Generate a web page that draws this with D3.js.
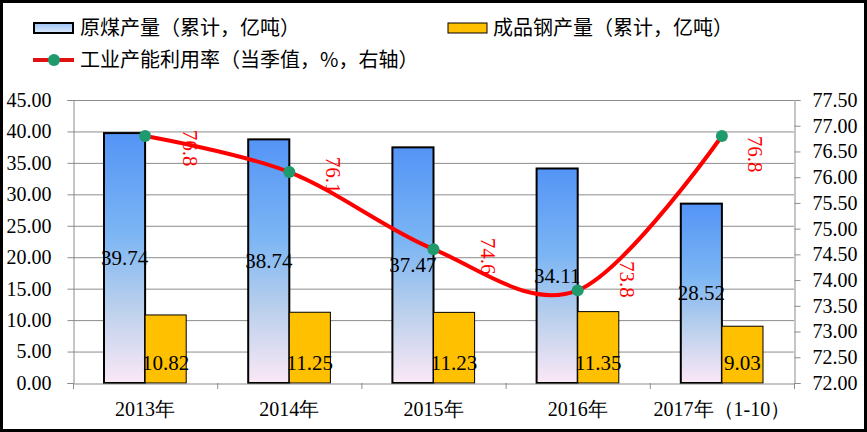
<!DOCTYPE html>
<html><head><meta charset="utf-8">
<script src="https://cdn.jsdelivr.net/npm/d3@7"></script>
<style>
body{margin:0;background:#fff;}
svg{display:block;}
.serif{font-family:"Liberation Serif","Times New Roman","DejaVu Serif",serif;}
.cjk{font-family:"Noto Sans CJK SC","Noto Sans",sans-serif;}
</style></head>
<body>
<div id="chart"></div>
<script>
const categories = ["2013年","2014年","2015年","2016年","2017年（1-10）"];
const coalOutput = [39.74, 38.74, 37.47, 34.11, 28.52];
const steelOutput = [10.82, 11.25, 11.23, 11.35, 9.03];
const utilization = [76.8, 76.1, 74.6, 73.8, 76.8];
const leftTicks = [0,5,10,15,20,25,30,35,40,45];
const rightTicks = [72,72.5,73,73.5,74,74.5,75,75.5,76,76.5,77,77.5];
const seriesNames = ["原煤产量（累计，亿吨）","成品钢产量（累计，亿吨）","工业产能利用率（当季值，%，右轴）"];

const W = 867, H = 432;
const plot = {left:73, right:794, top:100, bottom:383};

const svg = d3.select("#chart").append("svg").attr("width",W).attr("height",H);
const defs = svg.append("defs");
const grad = defs.append("linearGradient").attr("id","blueGrad")
  .attr("x1",0).attr("y1",0).attr("x2",0).attr("y2",1);
grad.append("stop").attr("offset","0%").attr("stop-color","#5494F6");
grad.append("stop").attr("offset","40%").attr("stop-color","#7BB5F4");
grad.append("stop").attr("offset","70%").attr("stop-color","#BBD0EC");
grad.append("stop").attr("offset","100%").attr("stop-color","#FBE8F6");
const gradH = defs.append("linearGradient").attr("id","blueGradH")
  .attr("x1",0).attr("y1",0).attr("x2",0).attr("y2",1);
gradH.append("stop").attr("offset","0%").attr("stop-color","#9DC3F5");
gradH.append("stop").attr("offset","100%").attr("stop-color","#DCE9FB");

svg.append("rect").attr("x",0).attr("y",0).attr("width",W).attr("height",H).attr("fill","#fff");

const x0 = d3.scaleBand().domain(categories).range([plot.left, plot.right]).paddingInner(0.43).paddingOuter(0.215);
const xCat = d3.scaleBand().domain(categories).range([plot.left, plot.right]);
const x1 = d3.scaleBand().domain([0,1]).range([0, x0.bandwidth()]);
const yL = d3.scaleLinear().domain([0,45]).range([plot.bottom, plot.top]);
const yR = d3.scaleLinear().domain([72,77.5]).range([plot.bottom, plot.top]);

// gridlines
svg.append("g").selectAll("line").data(leftTicks.filter(d=>d>0)).join("line")
  .attr("x1",plot.left).attr("x2",plot.right)
  .attr("y1",d=>yL(d)+0.5).attr("y2",d=>yL(d)+0.5)
  .attr("stroke","#8c8c8c").attr("stroke-width",1);

// left axis
const gL = svg.append("g").attr("transform",`translate(${plot.left+0.5},0)`)
  .call(d3.axisLeft(yL).tickValues(leftTicks).tickFormat(d3.format(".2f")).tickSize(6).tickPadding(16));
// right axis
const gR = svg.append("g").attr("transform",`translate(${plot.right+0.5},0)`)
  .call(d3.axisRight(yR).tickValues(rightTicks).tickFormat(d3.format(".2f")).tickSize(6).tickPadding(12));
[gL,gR].forEach(g=>{
  g.attr("font-family",null).attr("font-size",null);
  g.select(".domain").attr("stroke","#8c8c8c");
  g.selectAll(".tick line").attr("stroke","#8c8c8c");
  g.selectAll(".tick text").attr("class","serif").style("font-size","20px").attr("fill","#000");
});

// bars
const groups = svg.append("g").selectAll("g").data(categories).join("g")
  .attr("transform",d=>`translate(${x0(d)},0)`);
groups.append("rect")
  .attr("x",x1(0)).attr("width",x1.bandwidth())
  .attr("y",(d,i)=>yL(coalOutput[i])).attr("height",(d,i)=>yL(0)-yL(coalOutput[i]))
  .attr("fill","url(#blueGrad)").attr("stroke","#000").attr("stroke-width",2);
groups.append("rect")
  .attr("x",x1(1)).attr("width",x1.bandwidth())
  .attr("y",(d,i)=>yL(steelOutput[i])).attr("height",(d,i)=>yL(0)-yL(steelOutput[i]))
  .attr("fill","#FFC000").attr("stroke","#000").attr("stroke-width",1);

// bottom axis
const gB = svg.append("g").attr("transform",`translate(0,${plot.bottom+0.5})`)
  .call(d3.axisBottom(xCat).tickSize(0).tickPadding(18));
gB.attr("font-family",null).attr("font-size",null);
gB.select(".domain").attr("stroke","#8c8c8c");
gB.selectAll(".tick text").attr("class","serif").style("font-size","20px").attr("fill","#000");
svg.append("g").selectAll("line").data(d3.range(categories.length+1)).join("line")
  .attr("x1",i=>plot.left+i*xCat.step()+0.5).attr("x2",i=>plot.left+i*xCat.step()+0.5)
  .attr("y1",plot.bottom).attr("y2",plot.bottom+6).attr("stroke","#8c8c8c");

// bar labels
groups.append("text").attr("class","serif")
  .attr("x",x1(0)+x1.bandwidth()/2).attr("y",(d,i)=>(yL(coalOutput[i])+yL(0))/2+7)
  .attr("text-anchor","middle").style("font-size","21px").attr("fill","#000")
  .text((d,i)=>coalOutput[i].toFixed(2));
groups.append("text").attr("class","serif")
  .attr("x",x1(1)+x1.bandwidth()/2).attr("y",yL(0)-13)
  .attr("text-anchor","middle").style("font-size","21px").attr("fill","#000")
  .text((d,i)=>steelOutput[i].toFixed(2));

// line
const cx = d=>xCat(d)+xCat.bandwidth()/2;
const line = d3.line().x((d,i)=>cx(categories[i])).y(d=>yR(d)).curve(d3.curveCardinal.tension(0));
svg.append("path").datum(utilization).attr("d",line)
  .attr("fill","none").attr("stroke","#FF0000").attr("stroke-width",4);
svg.append("g").selectAll("circle").data(utilization).join("circle")
  .attr("cx",(d,i)=>cx(categories[i])).attr("cy",d=>yR(d)).attr("r",6)
  .attr("fill","#1E9A6C");
// line labels (rotated)
const lblOff = [[45,12],[44,3],[55,7],[50,-11],[33,18]];
svg.append("g").selectAll("text").data(utilization).join("text").attr("class","serif")
  .attr("transform",(d,i)=>`translate(${cx(categories[i])+lblOff[i][0]},${yR(d)+lblOff[i][1]}) rotate(90)`)
  .attr("text-anchor","middle").attr("dy","0.35em")
  .style("font-size","21px").attr("fill","#FF0000")
  .text(d=>d.toFixed(1));

// legend
const lg = svg.append("g");
lg.append("rect").attr("x",34).attr("y",23).attr("width",39).attr("height",10)
  .attr("fill","url(#blueGradH)").attr("stroke","#000").attr("stroke-width",2);
lg.append("text").attr("class","cjk").attr("x",80).attr("y",28).attr("dy","0.35em").style("font-size","20px").text(seriesNames[0]);
lg.append("rect").attr("x",448).attr("y",23).attr("width",39).attr("height",10)
  .attr("fill","#FFC000").attr("stroke","#000").attr("stroke-width",1);
lg.append("text").attr("class","cjk").attr("x",493).attr("y",28).attr("dy","0.35em").style("font-size","20px").text(seriesNames[1]);
lg.append("line").attr("x1",33).attr("x2",74).attr("y1",60).attr("y2",60).attr("stroke","#E01010").attr("stroke-width",4);
lg.append("circle").attr("cx",54).attr("cy",60).attr("r",6).attr("fill","#1E9A6C");
lg.append("text").attr("class","cjk").attr("x",80).attr("y",60).attr("dy","0.35em").style("font-size","20px").text(seriesNames[2]);

// outer frame
svg.append("rect").attr("x",1.5).attr("y",1.5).attr("width",W-3).attr("height",H-3)
  .attr("fill","none").attr("stroke","#000").attr("stroke-width",3);
</script>
</body></html>
